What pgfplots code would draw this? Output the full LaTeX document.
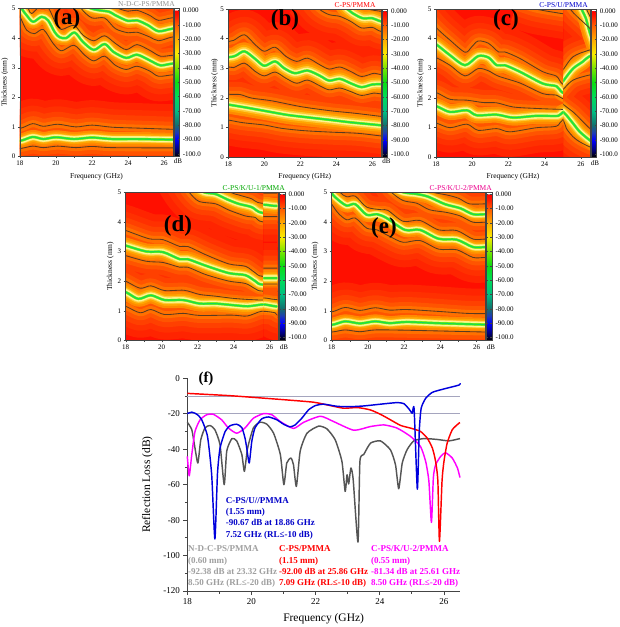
\documentclass[border=0pt]{standalone}
\usepackage{fontspec}
\setmainfont{Liberation Serif}
\usepackage{pgfplots}
\pgfplotsset{compat=1.18}

\definecolor{hA}{HTML}{FF2400}
\definecolor{hB}{HTML}{FF3000}
\definecolor{hC}{HTML}{FF4000}
\definecolor{hD}{HTML}{FF5400}
\definecolor{hE}{HTML}{FF7000}
\definecolor{cA}{HTML}{FF8A00}
\definecolor{cB}{HTML}{FFA400}
\definecolor{cC}{HTML}{FFC830}
\definecolor{cD}{HTML}{FFEE80}
\definecolor{cE}{HTML}{FFFDB0}
\definecolor{cF}{HTML}{A8F020}
\definecolor{cG}{HTML}{40E820}
\definecolor{cH}{HTML}{10D860}
\definecolor{contour}{HTML}{5A3A20}
\definecolor{frame}{HTML}{444444}

\pgfplotsset{
  colormap={rl}{
    rgb255(0pt)=(0,0,0);
    rgb255(50pt)=(0,0,120);
    rgb255(120pt)=(0,0,255);
    rgb255(170pt)=(30,60,180);
    rgb255(220pt)=(20,110,110);
    rgb255(320pt)=(0,190,130);
    rgb255(420pt)=(0,220,90);
    rgb255(520pt)=(10,220,20);
    rgb255(620pt)=(120,230,0);
    rgb255(720pt)=(250,235,0);
    rgb255(820pt)=(255,170,0);
    rgb255(920pt)=(255,90,0);
    rgb255(990pt)=(255,20,0);
    rgb255(1020pt)=(255,0,0);
    rgb255(1021pt)=(255,255,255);
    rgb255(1034pt)=(255,255,255)
  },
  mapbase/.style={
    scale only axis, width=153pt, height=148pt,
    xmin=18, xmax=26.5, ymin=0, ymax=5,
    axis background/.style={fill=red!88!orange},
    unbounded coords=jump
  },
  mapax/.style={
    mapbase,
    xtick={18,20,...,26}, minor x tick num=1, ytick={0,1,...,5},
    tick align=outside, xtick pos=bottom, ytick pos=left,
    major tick length=2pt, minor tick length=1.2pt,
    tick style={frame, line width=.4pt},
    axis line style={frame, line width=.5pt},
    axis on top,
    tick label style={font=\fontsize{7}{8}\selectfont, /pgf/number format/assume math mode=true},
    xticklabel style={yshift=1pt}, yticklabel style={xshift=1pt},
    xlabel style={at={(axis description cs:0.5,-0.135)}, anchor=center, font=\fontsize{7.5}{8}\selectfont},
    ylabel style={at={(axis description cs:-0.10,0.5)}, anchor=center, font=\fontsize{7.5}{8}\selectfont},
    ylabel={Thickness (mm)},
    colorbar,
    point meta min=-101.9, point meta max=1.4,
    colormap name=rl,
    colorbar style={
      width=5.5pt, xshift=-8pt,
      ytick={0,-10,-20,-30,-40,-50,-60,-70,-80,-90,-100},
      yticklabels={0.000,-10.00,-20.00,-30.00,-40.00,-50.00,-60.00,-70.00,-80.00,-90.00,-100.0},
      yticklabel pos=right, major tick length=1.5pt,
      axis line style={frame, line width=.4pt},
      tick style={frame, line width=.4pt},
      tick label style={font=\fontsize{7}{8}\selectfont}
    }
  },
  % strip laid over a map where the response jumps
  mapsub/.style={mapbase, ticks=none, axis line style={draw=none}},
  st/.style={smooth, tension=0.5, line cap=butt, line join=round},
  rl/.style={smooth, tension=0.35, line width=1.45pt, line join=round}
}

% #1 contours, #2 ridge lines, #3 width of the orange core
\newcommand\panelmap[3]{
  \addplot[st, hA, line width=50pt] coordinates {#1};
  \addplot[st, hB, line width=36pt] coordinates {#1};
  \addplot[st, hC, line width=25pt] coordinates {#1};
  \addplot[st, hD, line width=15pt] coordinates {#1};
  \addplot[st, hE, line width=7pt] coordinates {#1};
  \addplot[st, cA, line width=#3] coordinates {#2};
  \addplot[st, cB, line width=0.72*#3] coordinates {#2};
  \addplot[st, cC, line width=0.5*#3] coordinates {#2};
  \addplot[st, cD, line width=5.8pt] coordinates {#2};
  \addplot[st, cE, line width=4.2pt] coordinates {#2};
  \addplot[st, cF, line width=2.9pt] coordinates {#2};
  \addplot[st, cG, line width=2pt] coordinates {#2};
  \addplot[st, cH, line width=.7pt] coordinates {#2};
  \addplot[st, contour, line width=.85pt] coordinates {#1};
}

\begin{document}
\begin{tikzpicture}
\useasboundingbox (0pt,0pt) rectangle (620pt,-627pt);

% (a)
\begin{axis}[mapax, at={(20pt,-8.5pt)}, anchor=north west, xlabel={Frequency (GHz)}]
\panelmap{
 (17.4,5.4)(18,4.72)(18.37,4.27)(18.8,4.15)(19.3,4.29)(19.84,3.82)(20.3,3.57)(21,3.76)(21.6,3.42)(22.1,3.23)(22.7,3.39)(23.3,3.08)(23.9,2.94)(24.5,3.05)(25.2,2.89)(25.7,2.71)(26.5,2.76)(27.5,2.76) (0,nan)
 (18.2,5.5)(18.46,5)(18.64,4.83)(18.95,5)(19.2,5.2)(19.6,5)(20,4.49)(20.3,4.29)(21,4.43)(21.5,4.1)(22.1,3.91)(22.7,4.08)(23.3,3.82)(23.9,3.61)(24.5,3.78)(25.2,3.59)(25.8,3.39)(26.5,3.42)(27.5,3.42) (0,nan)
 (21,5.5)(21.4,5)(22,4.68)(22.7,4.68)(23.3,4.32)(24,4.18)(24.5,4.2)(25.2,4.04)(25.7,3.91)(26.5,4.04)(27.5,4.04) (0,nan)
 (22.6,5.3)(23.4,5.02)(24,4.91)(24.5,4.94)(25.2,4.77)(25.7,4.6)(26.5,4.69)(27.5,4.69) (0,nan)
 (17,0.95)(18,0.95)(18.7,1.11)(19.3,1.02)(20.1,1.09)(21.1,1)(22,1.06)(23.1,0.99)(24.5,0.96)(26.5,0.92)(27.5,0.92) (0,nan)
 (17,0.27)(18,0.27)(18.7,0.35)(19.3,0.3)(20.1,0.35)(21.1,0.3)(22,0.34)(23.1,0.3)(26.5,0.29)(27.5,0.29)
}{
 (17.6,5.6)(18.1,5)(18.37,4.77)(18.73,4.55)(19.2,4.72)(19.56,4.6)(19.93,4.2)(20.2,4.03)(20.57,4)(21.03,4.19)(21.5,3.87)(22.1,3.6)(22.7,3.8)(23.2,3.53)(23.9,3.33)(24.5,3.44)(25.2,3.25)(25.8,3.08)(26.5,3.14)(27.5,3.14) (0,nan)
 (21.2,5.2)(21.95,5)(22.4,4.94)(22.96,4.89)(23.3,4.77)(24,4.58)(24.5,4.6)(25.1,4.44)(25.7,4.23)(26.5,4.32)(27.5,4.32) (0,nan)
 (17,0.53)(18,0.53)(18.7,0.66)(19.3,0.59)(20,0.65)(21,0.59)(22,0.64)(23.1,0.59)(24.5,0.59)(26.5,0.57)(27.5,0.57)
}{14pt}
\end{axis}

% (b)
\begin{axis}[mapax, at={(228.3pt,-9pt)}, anchor=north west, xlabel={Frequency (GHz)}, ylabel style={at={(axis description cs:-0.09,0.5)}}]
\panelmap{
 (17,2.2)(18,2.12)(18.65,2.11)(19.3,1.99)(20.4,1.9)(22.05,1.7)(23.7,1.56)(25,1.48)(26.5,1.37)(27.5,1.3) (0,nan)
 (17,1.35)(18,1.25)(18.8,1.16)(20,1.08)(20.95,0.97)(22.2,0.89)(23.7,0.84)(25.2,0.8)(26.5,0.71)(27.5,0.65) (0,nan)
 (17,3.9)(18,3.9)(18.3,3.94)(18.9,4.13)(19.5,3.79)(20,3.57)(20.6,3.71)(21.2,3.4)(21.8,3.23)(22.4,3.34)(23.1,3.11)(23.6,2.97)(24.2,3.04)(24.8,2.89)(25.4,2.72)(26.1,2.83)(26.5,2.78)(27.5,2.78) (0,nan)
 (17,3.04)(18,3.04)(18.3,3.02)(18.9,3.17)(19.5,2.89)(20,2.74)(20.6,2.87)(21.2,2.66)(21.8,2.49)(22.4,2.6)(23.1,2.4)(23.6,2.27)(24.2,2.33)(24.8,2.21)(25.4,2.08)(26.1,2.16)(26.5,2.13)(27.5,2.13) (0,nan)
 (22.5,5.4)(23.05,5)(23.6,4.81)(24.2,4.75)(24.8,4.58)(25.4,4.36)(26,4.38)(26.5,4.24)(27.5,4.2) (0,nan)
 (25,5.2)(25.75,5)(26.5,4.92)(27.5,4.85)
}{
 (17,1.87)(18,1.77)(18.9,1.68)(20,1.56)(21.3,1.42)(22.4,1.34)(23.7,1.25)(24.8,1.17)(26.5,1.07)(27.5,1) (0,nan)
 (17,3.37)(18,3.37)(18.4,3.42)(18.9,3.57)(19.5,3.31)(20,3.08)(20.6,3.23)(21.1,3)(21.7,2.83)(22.4,2.92)(23.1,2.74)(23.6,2.58)(24.2,2.64)(24.8,2.49)(25.4,2.36)(26,2.45)(26.5,2.46)(27.5,2.46) (0,nan)
 (24.2,5.3)(24.6,5)(24.9,4.86)(25.45,4.69)(26,4.69)(26.5,4.58)(27.5,4.5)
}{18pt}
\end{axis}

% (c)
\begin{axis}[mapax, width=154pt, at={(436pt,-9pt)}, anchor=north west, xlabel={Frequency (GHz)}]
\panelmap{
 (17,2.3)(18,2.18)(18.77,1.95)(19.7,1.92)(20.6,1.84)(21.35,1.83)(22.26,1.69)(23.55,1.64)(24.93,1.61)(26,1.6) (0,nan)
 (17,1.3)(18,1.15)(18.77,0.99)(19.7,1.11)(20.33,0.9)(21.35,0.96)(22.08,0.85)(23.55,0.99)(24.65,1.04)(25,1.26)(26,1.4) (0,nan)
 (17,5.1)(18,4.38)(18.77,3.95)(19.6,3.54)(19.97,3.72)(20.33,3.92)(20.9,3.84)(21.45,3.55)(21.8,3.55)(22.63,3.33)(23.9,2.88)(24.65,2.73)(25,2.46)(26,2.2) (0,nan)
 (17,3.6)(18,3.36)(18.77,3.1)(19.6,2.74)(20.33,2.99)(20.9,2.91)(21.45,2.73)(22.63,2.5)(23.9,2.14)(24.65,2.09)(25,1.97)(26,1.8) (0,nan)
 (22.5,5.2)(23.5,5)(24.9,4.85)(26,4.75)
}{
 (17,1.85)(18,1.72)(18.77,1.52)(19.7,1.58)(20.24,1.41)(21.35,1.43)(22.26,1.33)(23.55,1.39)(24.75,1.39)(25.02,1.52)(26,1.6) (0,nan)
 (17,4.2)(18,3.81)(18.77,3.44)(19.6,3.1)(20.33,3.41)(20.9,3.36)(21.35,3.1)(21.8,3.1)(22.63,2.88)(23.9,2.48)(24.65,2.39)(25,2.17)(26,1.9)
}{16pt}
\end{axis}
\begin{axis}[mapsub, width=26.6pt, xmin=25.03, xmax=26.5, at={(563.4pt,-9pt)}, anchor=north west]
\panelmap{
 (24.5,2.1)(25.02,1.78)(25.57,1.52)(25.94,1.3)(26.5,0.96)(27.2,0.6) (0,nan)
 (24.6,1.6)(25.02,1.26)(25.2,0.96)(25.57,0.68)(25.94,0.51)(26.5,0.34)(27.2,0.2) (0,nan)
 (24.5,2.5)(25.06,2.99)(25.57,3.39)(26.4,3.6)(27.2,3.7) (0,nan)
 (24.5,1.9)(25.06,2.31)(25.57,2.6)(26.4,2.76)(27.2,2.85) (0,nan)
 (25,5.4)(25.4,5)(25.8,4.74)(26.4,4.4)(27,4) (0,nan)
 (26,5.3)(26.3,5)(26.5,4.75)(27,4.3)
}{
 (24.6,1.75)(25.02,1.52)(25.2,1.41)(25.57,1.13)(25.94,0.85)(26.5,0.56)(27.2,0.25) (0,nan)
 (24.5,2.1)(25.06,2.6)(25.57,2.99)(26.1,3.22)(26.42,3.38)(27.2,3.6) (0,nan)
 (25.7,5.5)(26.03,5)(26.27,4.69)(26.5,4.18)(27,3.3)
}{16pt}
\end{axis}
\draw[frame, line width=.5pt] (436pt,-9pt) rectangle (590pt,-157pt);

% (d)
\begin{axis}[mapax, at={(125.7pt,-192.3pt)}, anchor=north west]
\panelmap{
 (17,2.3)(18,2)(18.8,1.76)(19.4,1.84)(20.16,1.68)(21.25,1.69)(22.1,1.55)(23,1.49)(24.1,1.41)(25.55,1.36)(27.5,1.36) (0,nan)
 (17,1.4)(18,1.15)(18.8,0.93)(19.4,1.04)(20.16,0.87)(21.2,0.91)(22.1,0.84)(23.9,0.85)(24.75,0.82)(25.55,0.98)(26.3,0.93)(26.42,0.78)(27.5,0.6) (0,nan)
 (17,3.9)(18,3.71)(19.3,3.43)(20.07,3.4)(21,3.17)(21.45,3.17)(22.45,2.89)(23.73,2.58)(24.65,2.5)(25.2,2.28)(25.62,2.16)(27.5,2.16) (0,nan)
 (17,3.05)(18,2.86)(19.15,2.67)(20.07,2.63)(21,2.47)(21.45,2.47)(22.45,2.22)(23.73,2)(24.65,1.92)(25.2,1.74)(25.62,1.66)(27.5,1.66) (0,nan)
 (21.1,5.4)(21.53,5)(22.08,4.69)(23,4.61)(23.73,4.4)(24.65,4.2)(25.2,4.15)(25.62,4)(27.5,4) (0,nan)
 (23.2,5.3)(23.83,5)(24.28,4.91)(25,4.78)(25.55,4.63)(27.5,4.63)
}{
 (17,1.85)(18,1.63)(18.7,1.4)(19.4,1.52)(20.16,1.36)(21.2,1.36)(22.1,1.24)(23,1.24)(24.1,1.18)(24.8,1.15)(25.65,1.21)(26.3,1.15)(26.42,1.1)(27.5,1.1) (0,nan)
 (17,3.4)(18,3.2)(19.15,3)(20.07,2.98)(21,2.74)(21.45,2.74)(22.45,2.52)(23.73,2.27)(24.65,2.2)(25.2,2)(25.62,1.88)(27.5,1.88) (0,nan)
 (21.8,5.2)(22.36,5)(23,4.94)(23.64,4.76)(24.28,4.61)(25,4.5)(25.62,4.3)(27.5,4.3)
}{16pt}
\end{axis}
\begin{axis}[mapsub, width=13.9pt, xmin=25.65, xmax=26.42, at={(263.4pt,-192.3pt)}, anchor=north west]
\panelmap{
 (24.5,1.43)(25.7,1.43)(26.3,1.38)(27.5,1.38) (0,nan)
 (24.5,0.9)(25.55,0.98)(26.3,0.93)(26.42,0.85)(27.5,0.7) (0,nan)
 (24.5,2.44)(25.7,2.44)(26.3,2.44)(27.5,2.44) (0,nan)
 (24.5,1.9)(25.7,1.9)(26.3,1.9)(27.5,1.9) (0,nan)
 (24.5,4.18)(25.7,4.18)(26.3,4.18)(27.5,4.18) (0,nan)
 (24.5,4.97)(25.7,4.97)(26.3,4.97)(27.5,4.97)
}{
 (24.5,1.18)(25.65,1.21)(26.3,1.15)(27.5,1.1) (0,nan)
 (24.5,2.1)(25.7,2.1)(26.3,2.1)(27.5,2.1) (0,nan)
 (24.5,4.58)(25.7,4.58)(26.3,4.54)(27.5,4.54)
}{16pt}
\end{axis}
\draw[frame, line width=.5pt] (125.7pt,-192.3pt) rectangle (278.7pt,-340.3pt);

% (e)
\begin{axis}[mapax, width=154pt, at={(331.7pt,-192.3pt)}, anchor=north west, ylabel style={at={(axis description cs:-0.108,0.5)}}]
\panelmap{
 (17.5,5.1)(18,4.6)(18.37,4.29)(18.83,4.07)(19.3,4.13)(19.93,3.79)(20.5,3.73)(21.2,3.51)(21.95,3.31)(22.87,3.37)(23.9,3.08)(24.9,3.06)(25.8,2.8)(26.5,2.8)(27.5,2.8) (0,nan)
 (18.1,5.4)(18.46,5)(18.83,4.85)(19.3,4.87)(19.93,4.5)(20.76,4.41)(21.1,4.39)(21.95,4.02)(22.87,4.05)(23.9,3.73)(24.9,3.71)(25.8,3.42)(26.5,3.42)(27.5,3.42) (0,nan)
 (20.8,5.4)(21.3,5)(21.95,4.72)(22.7,4.63)(23.4,4.41)(24.35,4.32)(25.1,4.2)(25.8,3.99)(26.5,3.99)(27.5,3.99) (0,nan)
 (22.8,5.2)(23.6,5)(24.35,4.91)(25,4.8)(25.6,4.61)(26.5,4.61)(27.5,4.61) (0,nan)
 (17,0.96)(18,0.96)(18.74,1.11)(19.56,1.01)(20.4,1.1)(21.2,1.02)(22.13,1.04)(23.8,0.98)(25.46,0.91)(26.5,0.9)(27.5,0.9) (0,nan)
 (17,0.28)(18,0.28)(18.74,0.35)(19.56,0.29)(20.4,0.35)(22.13,0.34)(26.5,0.28)(27.5,0.28)
}{
 (17.5,5.5)(18,4.97)(18.37,4.74)(18.83,4.55)(19.3,4.6)(19.93,4.24)(20.5,4.26)(21.03,4.13)(22.04,3.73)(22.87,3.73)(23.9,3.43)(24.9,3.4)(25.8,3.15)(26.5,3.15)(27.5,3.15) (0,nan)
 (21.2,5.2)(21.95,5)(22.7,4.94)(23.33,4.85)(24.25,4.6)(25.1,4.46)(25.8,4.26)(26.5,4.26)(27.5,4.26) (0,nan)
 (17,0.52)(18,0.52)(18.74,0.64)(19.56,0.57)(20.4,0.64)(21.2,0.58)(22.13,0.62)(23.8,0.58)(26.5,0.53)(27.5,0.53)
}{14pt}
\end{axis}

% (f)
\begin{axis}[
  scale only axis, width=272.7pt, height=212.7pt,
  at={(187.3pt,-378.3pt)}, anchor=north west,
  xmin=18, xmax=26.5, ymin=-120, ymax=0,
  axis x line=bottom, axis y line=left,
  axis line style={-, frame, line width=1pt},
  tick style={frame, line width=.8pt},
  tick align=outside,
  major tick length=4pt, minor tick length=2.5pt,
  xtick={18,20,...,26}, minor x tick num=1,
  ytick={-120,-100,...,0}, minor y tick num=1,
  clip=false,
  tick label style={font=\fontsize{9}{10}\selectfont, /pgf/number format/assume math mode=true},
  xlabel={Frequency (GHz)}, ylabel={Reflection Loss (dB)},
  xlabel style={at={(axis description cs:0.5,-0.13)}, anchor=center, font=\fontsize{11.5}{12}\selectfont},
  ylabel style={at={(axis description cs:-0.147,0.5)}, anchor=center, font=\fontsize{11.5}{12}\selectfont}
]
\addplot[color={rgb,255:red,165;green,165;blue,190}, line width=.6pt] coordinates {(18,-10)(26.5,-10)};
\addplot[color={rgb,255:red,165;green,165;blue,190}, line width=.6pt] coordinates {(18,-20)(26.5,-20)};
% N-D-C-PS/PMMA
\addplot[rl, color={rgb,255:red,85;green,85;blue,85}] coordinates {
 (18,-24.8)(18.14,-29)(18.24,-39.4)(18.33,-47.8)(18.42,-34.7)(18.55,-28)(18.71,-26.6)(18.86,-29)(19.02,-37.5)(19.15,-60)(19.23,-41)(19.39,-34)(19.54,-35.3)(19.7,-43)(19.78,-52.5)(19.88,-39.4)(20.06,-28)(20.27,-24.8)(20.48,-25.9)(20.69,-31)(20.9,-43)(21.01,-60)(21.1,-47.8)(21.23,-45)(21.31,-48.8)(21.4,-61)(21.52,-41)(21.73,-31)(22.09,-27)(22.35,-28.5)(22.61,-34.7)(22.82,-46.9)(22.92,-63.8)(22.98,-54.4)(23.03,-59.6)(23.1,-50.6)(23.17,-57)(23.32,-92.4)(23.38,-47)(23.5,-43)(23.71,-36.6)(24.02,-35.3)(24.33,-40.3)(24.49,-48.8)(24.59,-62.3)(24.7,-47.8)(24.85,-40.3)(25.06,-35.3)(25.38,-34)(25.79,-34.5)(26.16,-35.3)(26.5,-34)};
% C-PS/K/U-2/PMMA
\addplot[rl, color={rgb,255:red,255;green,0;blue,255}] coordinates {
 (18,-44)(18.06,-55)(18.14,-43)(18.24,-30)(18.4,-23.4)(18.6,-20.6)(18.81,-20.3)(19.07,-23.4)(19.28,-28)(19.54,-31)(19.8,-28)(20.06,-22.5)(20.38,-19.9)(20.64,-20.6)(20.9,-24.4)(21.31,-28.3)(21.63,-24.8)(22.15,-21.4)(22.56,-24.4)(23.19,-29.3)(23.71,-27.2)(24.13,-26.3)(24.54,-28.1)(24.96,-32.8)(25.27,-38.5)(25.43,-46.9)(25.53,-58)(25.61,-81.3)(25.67,-56)(25.74,-48.8)(25.9,-44)(26.05,-42)(26.26,-45)(26.42,-50.6)(26.5,-56)};
% C-PS/PMMA
\addplot[rl, red] coordinates {
 (18,-8.5)(19.33,-9.8)(20.38,-11.2)(21.1,-12.2)(21.94,-13.5)(22.46,-15.4)(22.88,-16.9)(23.3,-16.5)(23.7,-17.8)(24.02,-20.3)(24.33,-23.4)(24.65,-26.6)(24.96,-28.1)(25.27,-30)(25.48,-33.8)(25.64,-39.4)(25.74,-46.9)(25.81,-58)(25.86,-92)(25.94,-58)(26,-46.9)(26.1,-36.6)(26.26,-29)(26.47,-25.3)(26.5,-25)};
% C-PS/U/PMMA
\addplot[rl, color={rgb,255:red,0;green,0;blue,221}] coordinates {
 (18,-19.9)(18.14,-19.1)(18.3,-20.3)(18.45,-23.4)(18.63,-32.8)(18.76,-54.4)(18.86,-90.67)(18.94,-54)(19.02,-39.4)(19.18,-30)(19.33,-26.8)(19.54,-25.9)(19.7,-27.8)(19.8,-33.8)(19.85,-39)(19.93,-47.8)(20.01,-35.6)(20.11,-28)(20.32,-22.9)(20.53,-21.8)(20.79,-23.4)(21,-25.9)(21.2,-27.4)(21.36,-26.3)(21.57,-22.5)(21.78,-17.8)(21.99,-15.4)(22.25,-14.6)(22.67,-15.8)(23.08,-16)(23.5,-15.6)(24.02,-14.6)(24.54,-13.7)(24.75,-14.3)(24.91,-17.3)(25.01,-19.7)(25.07,-17.3)(25.17,-62.5)(25.23,-30)(25.29,-16.9)(25.43,-11.3)(25.64,-7.9)(26,-6)(26.47,-3.8)(26.5,-2.8)};
\end{axis}

% panel letters
\tikzset{letter/.style={font=\fontsize{23}{24}\selectfont\bfseries, inner sep=0pt}}
\node[letter] at (67pt,-19pt) {(a)};
\node[letter] at (285pt,-20pt) {(b)};
\node[letter] at (506pt,-20pt) {(c)};
\node[letter] at (178pt,-226pt) {(d)};
\node[letter] at (384pt,-228pt) {(e)};
\node[font=\fontsize{15}{16}\selectfont\bfseries, inner sep=0pt] at (206pt,-379pt) {(f)};

% sample names above the maps
\tikzset{ttl/.style={font=\fontsize{7.5}{8}\selectfont, inner sep=0pt, anchor=east}}
\node[ttl, text=gray!85] at (175pt,-4.5pt) {N-D-C-PS/PMMA};
\node[ttl, text=red] at (375.7pt,-5pt) {C-PS/PMMA};
\node[ttl, text=blue!80!black] at (588pt,-5pt) {C-PS/U/PMMA};
\node[ttl, text=green!65!black] at (285pt,-188pt) {C-PS/K/U-1/PMMA};
\node[ttl, text=magenta] at (492pt,-188pt) {C-PS/K/U-2/PMMA};

% dB under the colour bars
\tikzset{dbl/.style={font=\fontsize{7}{8}\selectfont, inner sep=0pt}}
\node[dbl] at (178pt,-161pt) {dB};
\node[dbl] at (386.5pt,-161pt) {dB};
\node[dbl] at (595pt,-163pt) {dB};
\node[dbl] at (284pt,-347pt) {dB};
\node[dbl] at (491pt,-347pt) {dB};

% annotations of panel f
\tikzset{ann/.style={font=\fontsize{9}{11.4}\selectfont\bfseries, inner sep=0pt, anchor=north west, align=left}}
\node[ann, text={rgb,255:red,0;green,0;blue,200}] at (225.7pt,-497pt) {C-PS/U//PMMA\\(1.55 mm)\\-90.67 dB at 18.86 GHz\\7.52 GHz (RL≤-10 dB)};
\node[ann, text=gray!75] at (188pt,-545.5pt) {N-D-C-PS/PMMA\\(0.60 mm)\\-92.38 dB at 23.32 GHz\\8.50 GHz (RL≤-20 dB)};
\node[ann, text=red] at (279pt,-545.5pt) {C-PS/PMMA\\(1.15 mm)\\-92.00 dB at 25.86 GHz\\7.09 GHz (RL≤-10 dB)};
\node[ann, text={rgb,255:red,255;green,0;blue,255}] at (371pt,-545.5pt) {C-PS/K/U-2/PMMA\\(0.55 mm)\\-81.34 dB at 25.61 GHz\\8.50 GHz (RL≤-20 dB)};
\end{tikzpicture}
\end{document}
